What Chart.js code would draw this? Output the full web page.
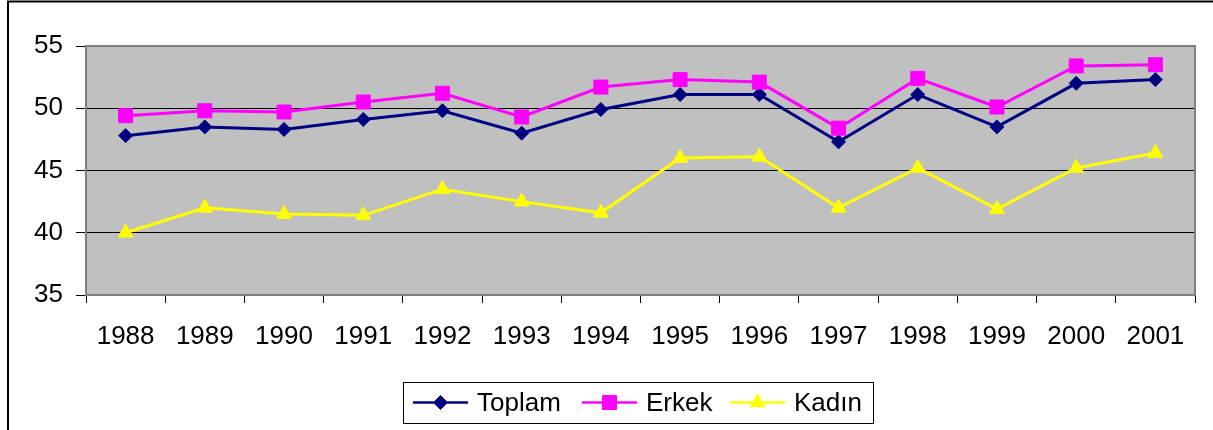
<!DOCTYPE html>
<html>
<head>
<meta charset="utf-8">
<script src="https://cdn.jsdelivr.net/npm/chart.js@4/dist/chart.umd.min.js"></script>
<style>
  html, body { margin: 0; padding: 0; background: #fff; }
  #wrap { width: 1213px; height: 430px; }
</style>
</head>
<body>
<div id="wrap"><canvas id="chart" width="1213" height="430"></canvas></div>
<script>
// veriler
const years = ['1988', '1989', '1990', '1991', '1992', '1993', '1994', '1995', '1996', '1997', '1998', '1999', '2000', '2001'];
const toplam = [47.8, 48.5, 48.3, 49.1, 49.8, 48.0, 49.9, 51.1, 51.1, 47.3, 51.1, 48.5, 52.0, 52.3];
const erkek = [49.4, 49.8, 49.7, 50.5, 51.2, 49.3, 51.7, 52.3, 52.1, 48.4, 52.4, 50.1, 53.4, 53.5];
const kadin = [40.0, 42.0, 41.5, 41.4, 43.5, 42.5, 41.6, 46.0, 46.1, 42.0, 45.2, 41.9, 45.2, 46.4];
const seriesNames = ['Toplam', 'Erkek', 'Kadın'];
const yTicks = [35, 40, 45, 50, 55];

const FONT = "'Liberation Sans', Arial, sans-serif";

const styles = [
    { color: '#000080', pointStyle: 'rectRot', radius: 7 },
    { color: '#ff00ff', pointStyle: 'rect', radius: 9.9 },
    { color: '#ffff00', pointStyle: 'triangle', radius: 8.6 }
];

// arka plan, çerçeve ve lejant
const plotFrame = {
    id: 'plotFrame',
    beforeDraw(chart) {
        const { ctx, chartArea: a } = chart;
        ctx.save();
        ctx.fillStyle = '#c0c0c0';
        ctx.fillRect(a.left, a.top, a.right - a.left, a.bottom - a.top);
        ctx.restore();
    },
    beforeDatasetsDraw(chart) {
        const { ctx, chartArea: a } = chart;
        ctx.save();
        ctx.strokeStyle = '#808080';
        ctx.lineWidth = 2;
        ctx.strokeRect(a.left, a.top, a.right - a.left, a.bottom - a.top);
        ctx.restore();
    },
    afterDraw(chart) {
        const ctx = chart.ctx;
        ctx.save();
        // dış çerçeve
        ctx.strokeStyle = '#000';
        ctx.lineWidth = 2;
        ctx.beginPath();
        ctx.moveTo(8, 430);
        ctx.lineTo(8, 1.5);
        ctx.lineTo(1213, 1.5);
        ctx.stroke();

        // lejant kutusu
        ctx.lineWidth = 1;
        ctx.fillStyle = '#fff';
        ctx.fillRect(403.5, 382.5, 470, 41);
        ctx.strokeRect(403.5, 382.5, 470, 41);

        const cy = 402.5;
        const starts = [413, 582, 730];
        chart.data.datasets.forEach((ds, i) => {
            const x0 = starts[i];
            const st = styles[i];
            ctx.strokeStyle = st.color;
            ctx.lineWidth = 2.5;
            ctx.beginPath();
            ctx.moveTo(x0, cy);
            ctx.lineTo(x0 + 55, cy);
            ctx.stroke();
            ctx.fillStyle = st.color;
            ctx.strokeStyle = st.color;
            ctx.lineWidth = 1;
            Chart.helpers.drawPoint(ctx, {
                pointStyle: st.pointStyle,
                radius: st.radius,
                rotation: 0,
                borderWidth: 1
            }, x0 + 27.5, cy);
            ctx.fillStyle = '#000';
            ctx.font = '26px ' + FONT;
            ctx.textBaseline = 'middle';
            ctx.textAlign = 'left';
            ctx.fillText(ds.label, x0 + 64, cy + 1);
        });
        ctx.restore();
    }
};

const datasets = [toplam, erkek, kadin].map((vals, i) => ({
    label: seriesNames[i],
    data: vals,
    borderColor: styles[i].color,
    backgroundColor: styles[i].color,
    borderWidth: 3,
    pointStyle: styles[i].pointStyle,
    pointRadius: styles[i].radius,
    pointHoverRadius: styles[i].radius,
    pointBorderWidth: 1,
    pointBackgroundColor: styles[i].color,
    pointBorderColor: styles[i].color,
    tension: 0,
    order: 3 - i
}));

new Chart(document.getElementById('chart'), {
    type: 'line',
    data: { labels: years, datasets: datasets },
    options: {
        responsive: false,
        animation: false,
        layout: { padding: { top: 46, right: 18, left: 0, bottom: 0 } },
        plugins: {
            legend: { display: false },
            tooltip: { enabled: false }
        },
        scales: {
            x: {
                offset: true,
                grid: {
                    offset: true,
                    drawOnChartArea: false,
                    drawTicks: true,
                    tickLength: 8,
                    tickColor: '#000',
                    lineWidth: 1
                },
                border: { display: false },
                ticks: {
                    color: '#000',
                    font: { family: FONT, size: 26 },
                    padding: 18,
                    maxRotation: 0,
                    autoSkip: false
                },
                afterFit(scale) { scale.height = 135; }
            },
            y: {
                min: yTicks[0],
                max: yTicks[yTicks.length - 1],
                afterBuildTicks(scale) {
                    scale.ticks = yTicks.map(v => ({ value: v }));
                },
                grid: {
                    color: '#000',
                    lineWidth: 1,
                    tickLength: 10,
                    tickColor: '#000'
                },
                border: { display: false },
                ticks: {
                    color: '#000',
                    font: { family: FONT, size: 26 },
                    padding: 13
                },
                afterFit(scale) { scale.width = 86; }
            }
        }
    },
    plugins: [plotFrame]
});
</script>
</body>
</html>
